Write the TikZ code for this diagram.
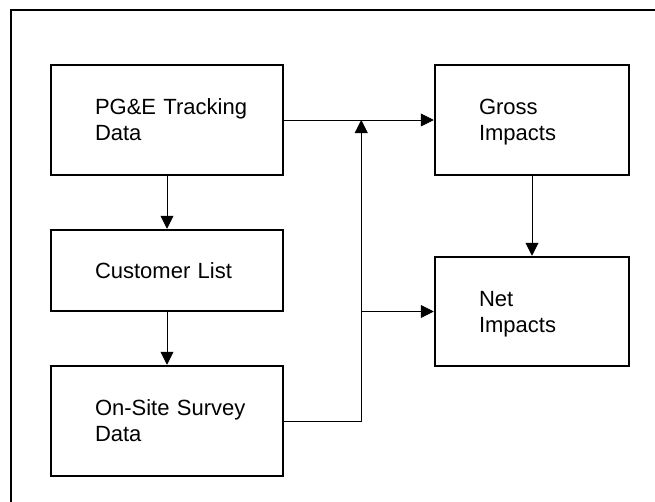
\documentclass[tikz,border=0pt]{standalone}
\usepackage{fontspec}
\setmainfont{Liberation Sans}
\usepackage{tikz}
\usetikzlibrary{arrows.meta,positioning,calc}

\begin{document}
\begin{tikzpicture}[x=1pt,y=-1pt,
  every node/.style={font=\fontsize{22}{26}\selectfont},
  block/.style={draw,line width=2.5pt,minimum width=#1,text width=#1-44pt,inner xsep=22pt,align=left,execute at begin node={\leftskip=22pt}},
  link/.style={line width=0.9pt,-{Triangle[length=13pt,width=13pt]}}]
  \clip (0,0) rectangle (655,501);
  \draw[line width=2pt] (11,9.5) rectangle (700,560);

  \node[block=232pt,minimum height=110pt] (pge) at (167,120) {PG\&E Tracking\\Data};
  \node[block=232pt,minimum height=81pt,below=52.5pt of pge] (cust) {Customer List};
  \node[block=232pt,minimum height=110pt,below=52.5pt of cust] (survey) {On-Site Survey\\Data};
  \node[block=194pt,minimum height=110pt,text depth=26pt,right=149.5pt of pge] (gross) {Gross\\Impacts};
  \node[block=194pt,minimum height=109pt,text depth=26pt,below=79.5pt of gross] (net) {Net\\Impacts};

  \coordinate (split) at ($(survey.east)+(77,0)$);

  \draw[link] (pge) -- (cust);
  \draw[link] (cust) -- (survey);
  \draw[link] (gross) -- (net);
  \draw[link] (pge.east) -- (gross.west);
  \draw[link] (survey.east) -- (split) -- (split |- pge.east);
  \draw[link] (split |- net.west) -- (net.west);
\end{tikzpicture}
\end{document}
